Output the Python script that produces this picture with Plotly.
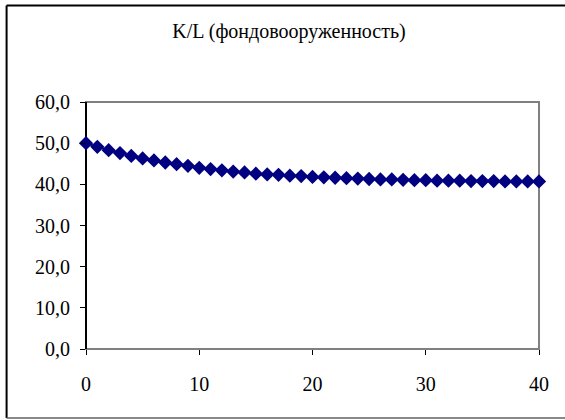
import plotly.graph_objects as go

periods = list(range(0, 41))
kl_values = [50.0, 49.1, 48.3, 47.6, 46.9, 46.3, 45.8, 45.3, 44.9, 44.5,
             44.0, 43.7, 43.4, 43.1, 42.9, 42.6, 42.4, 42.3, 42.1, 42.0,
             41.8, 41.7, 41.6, 41.5, 41.4, 41.3, 41.2, 41.2, 41.1, 41.0,
             41.0, 40.9, 40.9, 40.9, 40.8, 40.8, 40.8, 40.7, 40.7, 40.7, 40.7]
y_ticks = [0, 10, 20, 30, 40, 50, 60]
y_tick_labels = ["0,0", "10,0", "20,0", "30,0", "40,0", "50,0", "60,0"]
x_ticks = [0, 10, 20, 30, 40]
x_tick_labels = ["0", "10", "20", "30", "40"]
title_text = "K/L (фондовооруженность)"

W, H = 565, 420
L, R, T, B = 86, 539.5, 102, 349
pw, ph = R - L, B - T

def px(x):
    return (x - L) / pw

def py(y):
    return (B - y) / ph

font = dict(family="'Liberation Serif', 'Times New Roman', serif", size=20, color="black")

fig = go.Figure()
fig.add_trace(go.Scatter(
    x=periods, y=kl_values, mode="lines+markers",
    line=dict(color="#000080", width=2),
    marker=dict(symbol="diamond", size=11, color="#000080", line=dict(width=0)),
    cliponaxis=False, showlegend=False, hoverinfo="x+y",
))

border_left, border_top, border_bottom, border_right = 6.5, 5.5, 418, 600

fig.update_layout(
    width=W, height=H,
    margin=dict(l=L, r=W - R, t=T, b=H - B, pad=0),
    paper_bgcolor="white", plot_bgcolor="white",
    font=font,
    title=dict(text=title_text, x=289 / W, xanchor="center", xref="container",
               y=1 - 31 / H, yanchor="middle", yref="container", font=font),
    xaxis=dict(range=[0, 40], tickvals=x_ticks, ticktext=x_tick_labels,
               showgrid=False, zeroline=False, showline=False,
               ticks="outside", ticklen=5, tickcolor="black", tickwidth=1,
               ticklabelstandoff=12, tickfont=font, fixedrange=True),
    yaxis=dict(range=[0, 60], tickvals=y_ticks, ticktext=y_tick_labels,
               showgrid=False, zeroline=False, showline=False,
               ticks="outside", ticklen=5, tickcolor="black", tickwidth=1,
               ticklabelstandoff=6, tickfont=font, fixedrange=True),
    shapes=[
        dict(type="rect", xref="paper", yref="paper", x0=0, y0=0, x1=1, y1=1,
             line=dict(color="#808080", width=2), layer="below"),
        dict(type="line", xref="paper", yref="paper", x0=0, y0=0, x1=0, y1=1,
             line=dict(color="black", width=2), layer="below"),
        dict(type="line", xref="paper", yref="paper",
             x0=px(border_left), y0=py(border_top), x1=px(border_left), y1=py(border_bottom),
             line=dict(color="black", width=2), layer="below"),
        dict(type="line", xref="paper", yref="paper",
             x0=px(border_left), y0=py(border_top), x1=px(border_right), y1=py(border_top),
             line=dict(color="black", width=2), layer="below"),
        dict(type="line", xref="paper", yref="paper",
             x0=px(border_left), y0=py(border_bottom), x1=px(border_right), y1=py(border_bottom),
             line=dict(color="#606060", width=1.5), layer="below"),
    ],
)

fig.write_html("out.html",
               config={"displayModeBar": False},
               post_script="document.body.style.margin='0px';document.body.style.overflow='hidden';")
